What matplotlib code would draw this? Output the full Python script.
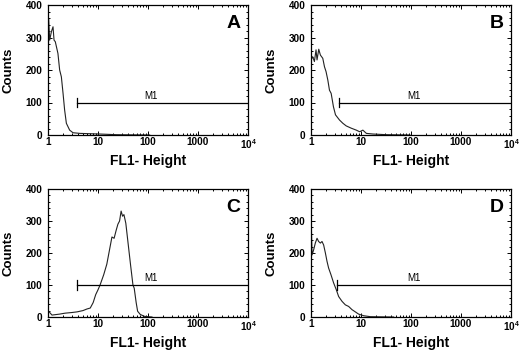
import numpy as np
import matplotlib.pyplot as plt
from matplotlib.ticker import FixedLocator, FixedFormatter, MultipleLocator

plt.rcParams['font.family'] = ['Liberation Sans', 'DejaVu Sans']
plt.rcParams['mathtext.fontset'] = 'custom'
plt.rcParams['mathtext.rm'] = 'Liberation Sans'
plt.rcParams['mathtext.bf'] = 'Liberation Sans:bold'

# histogram traces (FL1 channel value, counts)
a_x = [1.0, 1.03, 1.08, 1.17, 1.26, 1.32, 1.40, 1.58, 1.71, 1.85, 2.0, 2.15, 2.33, 2.71, 3.16, 4.3, 10.8, 23, 108]
a_y = [0, 359, 292, 318, 333, 292, 287, 251, 200, 179, 128, 77, 36, 15, 7, 5, 3, 1, 0]

b_x = [1.0, 1.08, 1.17, 1.26, 1.32, 1.43, 1.54, 1.72, 1.86, 2.0, 2.17, 2.34, 2.53, 2.81, 3.09, 3.72, 4.34,
       5.06, 6.37, 8.05, 9.4, 10.9, 12.8, 17.4, 32, 95]
b_y = [231, 241, 226, 262, 231, 264, 246, 236, 210, 195, 169, 138, 128, 87, 62, 46, 36,
       28, 21, 15, 10, 15, 5, 3, 1, 0]

c_x = [1.0, 1.03, 1.2, 1.7, 2.2, 3.0, 3.8, 5.0, 6.0, 7.0, 8.0, 9.0, 10.0, 11.0, 13.0, 15.0, 17.0, 19.0,
       21.0, 23.0, 25.0, 27.0, 29.0, 31.0, 33.0, 36.0, 40.0, 45.0, 50.0, 53.0, 58.0, 62.0, 70.0, 85.0, 120.0]
c_y = [0, 18, 6, 9, 12, 14, 16, 20, 25, 28, 45, 70, 85, 100, 132, 165, 210, 250,
       246, 270, 290, 300, 331, 315, 320, 293, 230, 160, 100, 90, 45, 18, 8, 2, 0]

d_x = [1.0, 1.005, 1.05, 1.13, 1.22, 1.32, 1.42, 1.54, 1.66, 1.79, 1.94, 2.09, 2.25, 2.51, 2.84, 3.21,
       3.57, 4.17, 4.86, 5.66, 6.6, 7.7, 8.97, 11.3, 15.4, 45]
d_y = [0, 309, 194, 210, 231, 246, 236, 231, 236, 225, 200, 174, 153, 132, 106, 85,
       64, 49, 38, 33, 23, 16, 9, 4, 1, 0]

panels = ['A', 'B', 'C', 'D']
traces = [(a_x, a_y), (b_x, b_y), (c_x, c_y), (d_x, d_y)]
m1_start = [3.8, 3.55, 3.75, 3.3]
m1_level = 100

x_ticks = [1, 10, 100, 1000, 10000]
x_labels = ['1', '10', '100', '1000', r'$\mathbf{10^{4}}$']
y_ticks = [0, 100, 200, 300, 400]

W, H = 520, 350
boxes = [(48, 5, 200, 130), (311, 5, 200, 130), (48, 189, 200, 128), (311, 189, 200, 128)]

fig = plt.figure(figsize=(W / 100, H / 100), dpi=100)

for letter, (xs, ys), start, (l, t, w, h) in zip(panels, traces, m1_start, boxes):
    ax = fig.add_axes([l / W, 1 - (t + h) / H, w / W, h / H])
    ax.plot(xs, ys, color='#222222', lw=0.8)
    ax.set_xscale('log')
    ax.set_xlim(1, 10000)
    ax.set_ylim(0, 400)

    # M1 gate marker
    ax.plot([start, 10000], [m1_level, m1_level], color='black', lw=0.9)
    ax.plot([start, start], [m1_level - 15, m1_level + 15], color='black', lw=0.9)
    ax.text(117, m1_level + 5, 'M1', fontsize=7, ha='center', va='bottom')

    ax.text(0.963, 0.925, letter, transform=ax.transAxes, fontsize=14, fontweight='bold',
            ha='right', va='top')

    ax.xaxis.set_major_locator(FixedLocator(x_ticks))
    ax.xaxis.set_major_formatter(FixedFormatter(x_labels))
    ax.yaxis.set_major_locator(FixedLocator(y_ticks))
    ax.yaxis.set_minor_locator(MultipleLocator(20))
    ax.tick_params(which='both', direction='in', top=True, right=True, width=0.7, labelsize=7.2)
    ax.tick_params(axis='x', pad=1.5)
    ax.tick_params(axis='y', pad=4)
    ax.tick_params(which='major', length=3)
    ax.tick_params(which='minor', length=1.5)
    for lab in ax.get_xticklabels() + ax.get_yticklabels():
        lab.set_fontweight('bold')
    for s in ax.spines.values():
        s.set_linewidth(0.9)

    ax.set_xlabel('FL1- Height', fontsize=10, fontweight='bold', labelpad=2)
    ax.set_ylabel('Counts', fontsize=9.5, fontweight='bold', labelpad=8)

fig.savefig('out.png', dpi=100)
